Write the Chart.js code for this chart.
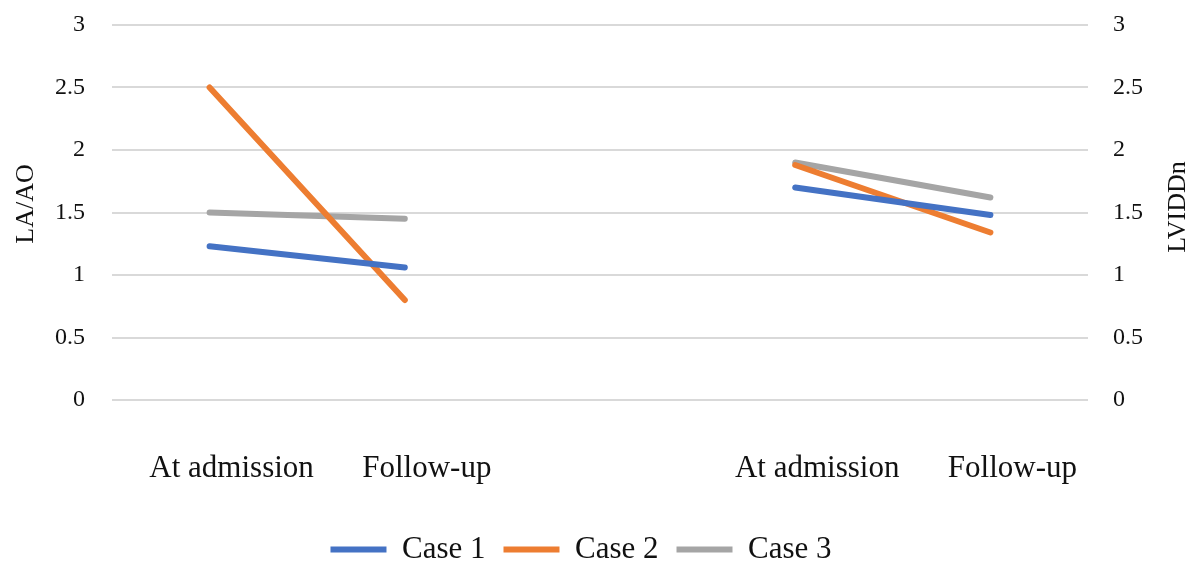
<!DOCTYPE html>
<html>
<head>
<meta charset="utf-8">
<script src="https://cdn.jsdelivr.net/npm/chart.js@4"></script>
<style>
  html, body { margin: 0; padding: 0; background: #fff; }
  #wrap { width: 1192px; height: 570px; position: relative; }
</style>
</head>
<body>
<div id="wrap"><canvas id="c" width="1192" height="570"></canvas></div>
<script>
const categories = ['At admission', 'Follow-up', '', 'At admission', 'Follow-up'];
const seriesNames = ['Case 1', 'Case 2', 'Case 3'];
// LA/AO (left axis) values
const laaoCase1 = [1.23, 1.06, null, null, null];
const laaoCase2 = [2.50, 0.80, null, null, null];
const laaoCase3 = [1.50, 1.45, null, null, null];
// LVIDDn (right axis) values
const lviddnCase1 = [null, null, null, 1.70, 1.48];
const lviddnCase2 = [null, null, null, 1.88, 1.34];
const lviddnCase3 = [null, null, null, 1.90, 1.62];
const yTicks = [0, 0.5, 1, 1.5, 2, 2.5, 3];
const leftTitle = 'LA/AO';
const rightTitle = 'LVIDDn';

const colors = ['#4472C4', '#ED7D31', '#A5A5A5'];
const FONT = "'Liberation Serif', 'Times New Roman', serif";

function ds(label, data, color, axis) {
  return {
    label, data, yAxisID: axis,
    borderColor: color, backgroundColor: color,
    borderWidth: 6, borderCapStyle: 'round', borderJoinStyle: 'round',
    pointRadius: 0, pointHoverRadius: 0, tension: 0, spanGaps: false, fill: false
  };
}

const axisTitlePlugin = {
  id: 'axisTitles',
  afterDraw(chart) {
    const ctx = chart.ctx;
    const draw = (text, x, y) => {
      ctx.save();
      ctx.translate(x, y);
      ctx.rotate(-Math.PI / 2);
      ctx.font = "26px " + FONT;
      ctx.fillStyle = '#111';
      ctx.textAlign = 'center';
      ctx.textBaseline = 'middle';
      ctx.fillText(text, 0, 0);
      ctx.restore();
    };
    draw(leftTitle, 26, 204);
    draw(rightTitle, 1178, 207);
  }
};

const tickFmt = (v) => String(v);

new Chart(document.getElementById('c'), {
  type: 'line',
  data: {
    labels: categories,
    datasets: [
      ds(seriesNames[0], laaoCase1, colors[0], 'y'),
      ds(seriesNames[1], laaoCase2, colors[1], 'y'),
      ds(seriesNames[2], laaoCase3, colors[2], 'y'),
      ds(seriesNames[0], lviddnCase1, colors[0], 'y1'),
      ds(seriesNames[1], lviddnCase2, colors[1], 'y1'),
      ds(seriesNames[2], lviddnCase3, colors[2], 'y1')
    ]
  },
  options: {
    responsive: false,
    animation: false,
    layout: { padding: { left: 0, right: 30, top: 25, bottom: 0 } },
    plugins: {
      tooltip: { enabled: false },
      legend: {
        position: 'bottom',
        maxHeight: 54,
        labels: {
          generateLabels(chart) {
            return chart.data.datasets.slice(0, 3).map((d, i) => ({
              text: d.label, fillStyle: d.borderColor, strokeStyle: d.borderColor,
              lineWidth: 0, datasetIndex: i, fontColor: '#111'
            }));
          },
          boxWidth: 56, boxHeight: 6, padding: 18,
          color: '#111',
          font: { family: FONT, size: 31 }
        }
      }
    },
    scales: {
      x: {
        offset: true,
        afterFit(s) { s.height = 116; },
        grid: { display: false, drawTicks: false },
        border: { display: false },
        ticks: {
          color: '#111', padding: 50, labelOffset: 22, maxRotation: 0, autoSkip: false,
          font: { family: FONT, size: 31 }
        }
      },
      y: {
        position: 'left', min: 0, max: 3,
        afterBuildTicks(s) { s.ticks = yTicks.map(v => ({ value: v })); },
        afterFit(s) { s.width = 112; s.paddingTop = 0; s.paddingBottom = 0; },
        grid: { color: '#d9d9d9', lineWidth: 2, drawTicks: false },
        border: { display: false },
        ticks: { color: '#111', padding: 27, font: { family: FONT, size: 24 }, callback: tickFmt }
      },
      y1: {
        position: 'right', min: 0, max: 3,
        afterBuildTicks(s) { s.ticks = yTicks.map(v => ({ value: v })); },
        afterFit(s) { s.width = 74; s.paddingTop = 0; s.paddingBottom = 0; },
        grid: { display: false, drawTicks: false },
        border: { display: false },
        ticks: { color: '#111', padding: 25, font: { family: FONT, size: 24 }, callback: tickFmt }
      }
    }
  },
  plugins: [axisTitlePlugin]
});
</script>
</body>
</html>
